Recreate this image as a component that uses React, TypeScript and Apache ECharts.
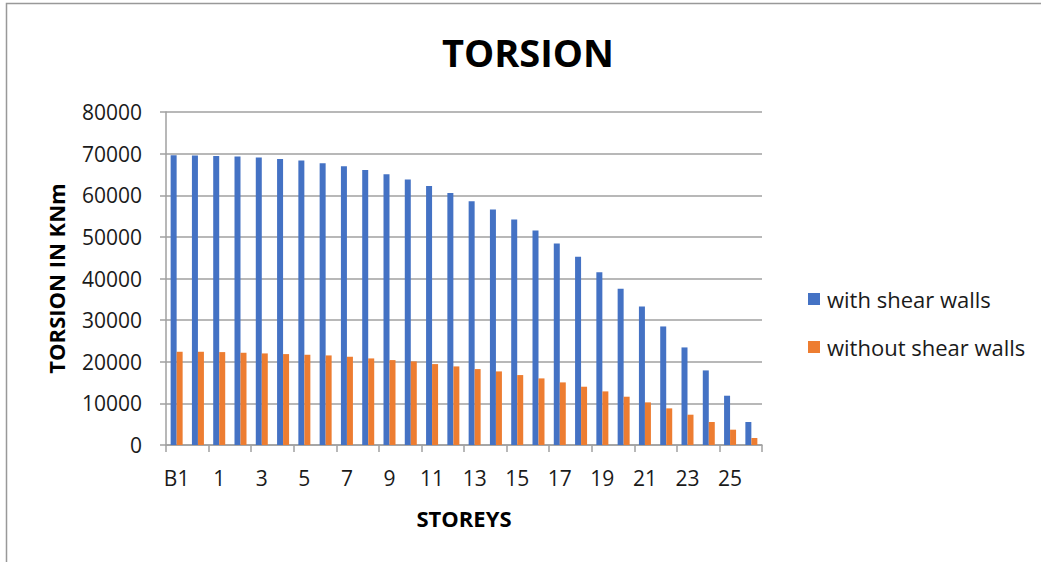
import React, { useEffect, useRef } from "react";
import * as echarts from "echarts";

const storeys = ["B1", "G", "1", "2", "3", "4", "5", "6", "7", "8", "9", "10", "11", "12", "13", "14", "15", "16", "17", "18", "19", "20", "21", "22", "23", "24", "25", "26"];
const withShearWalls = [69600, 69520, 69440, 69280, 69040, 68720, 68320, 67680, 66960, 66080, 65040, 63760, 62240, 60560, 58560, 56560, 54160, 51520, 48400, 45200, 41520, 37520, 33280, 28480, 23440, 17920, 11840, 5520];
const withoutShearWalls = [22400, 22400, 22320, 22160, 22000, 21840, 21680, 21520, 21200, 20800, 20400, 20080, 19440, 18880, 18240, 17680, 16800, 16000, 15040, 14000, 12880, 11600, 10240, 8800, 7280, 5520, 3680, 1680];

const FONT = "'Open Sans', 'Liberation Sans', sans-serif";

export default function App() {
  const ref = useRef<HTMLDivElement>(null);
  useEffect(() => {
    document.body.style.margin = "0";
    const chart = echarts.init(ref.current!, null, { renderer: "svg" });
    chart.setOption({
      animation: false,
      backgroundColor: "#ffffff",
      graphic: [
        {
          type: "rect",
          shape: { x: 6.5, y: 3.5, width: 1100, height: 700 },
          style: { fill: "none", stroke: "#999999", lineWidth: 1.5 },
          silent: true,
        },
        {
          type: "text",
          x: 528,
          y: 52,
          style: {
            text: "TORSION",
            font: `bold 38px ${FONT}`,
            fill: "#000000",
            align: "center",
            verticalAlign: "middle",
          },
        },
      ],
      legend: {
        orient: "vertical",
        left: 803,
        top: 283,
        itemWidth: 12,
        itemHeight: 12,
        itemGap: 26,
        icon: "rect",
        textStyle: { fontFamily: FONT, fontSize: 22, color: "#1a1a1a", padding: [0, 0, 0, 2] },
        data: ["with shear walls", "without shear walls"],
      },
      grid: { left: 166, top: 112, width: 596, height: 333, containLabel: false },
      xAxis: {
        type: "category",
        data: storeys,
        name: "STOREYS",
        nameLocation: "middle",
        nameGap: 62,
        nameTextStyle: { fontFamily: FONT, fontSize: 22, fontWeight: "bold", color: "#000000" },
        axisLine: { lineStyle: { color: "#a0a0a0", width: 1.5 } },
        axisTick: { show: true, length: 7, lineStyle: { color: "#a0a0a0", width: 1.5 } },
        axisLabel: { interval: 1, margin: 22, fontFamily: FONT, fontSize: 21, color: "#1a1a1a" },
      },
      yAxis: {
        type: "value",
        min: 0,
        max: 80000,
        interval: 10000,
        name: "TORSION IN KNm",
        nameLocation: "middle",
        nameRotate: 90,
        nameGap: 99,
        nameTextStyle: { fontFamily: FONT, fontSize: 22, fontWeight: "bold", color: "#000000" },
        axisLine: { show: true, lineStyle: { color: "#a0a0a0", width: 1.5 } },
        axisTick: { show: true, length: 6, lineStyle: { color: "#a0a0a0", width: 1.5 } },
        axisLabel: {
          margin: 24,
          fontFamily: FONT,
          fontSize: 21,
          color: "#1a1a1a",
          formatter: (v: number) => String(v),
        },
        splitLine: { lineStyle: { color: "#a0a0a0", width: 1.5 } },
      },
      series: [
        {
          name: "with shear walls",
          type: "bar",
          data: withShearWalls,
          barWidth: 6,
          barGap: "0%",
          itemStyle: { color: "#4472C4" },
        },
        {
          name: "without shear walls",
          type: "bar",
          data: withoutShearWalls,
          barWidth: 6,
          barGap: "0%",
          itemStyle: { color: "#ED7D31" },
        },
      ],
    });
    return () => chart.dispose();
  }, []);
  return <div ref={ref} style={{ width: 1041, height: 562, overflow: "hidden" }} />;
}
